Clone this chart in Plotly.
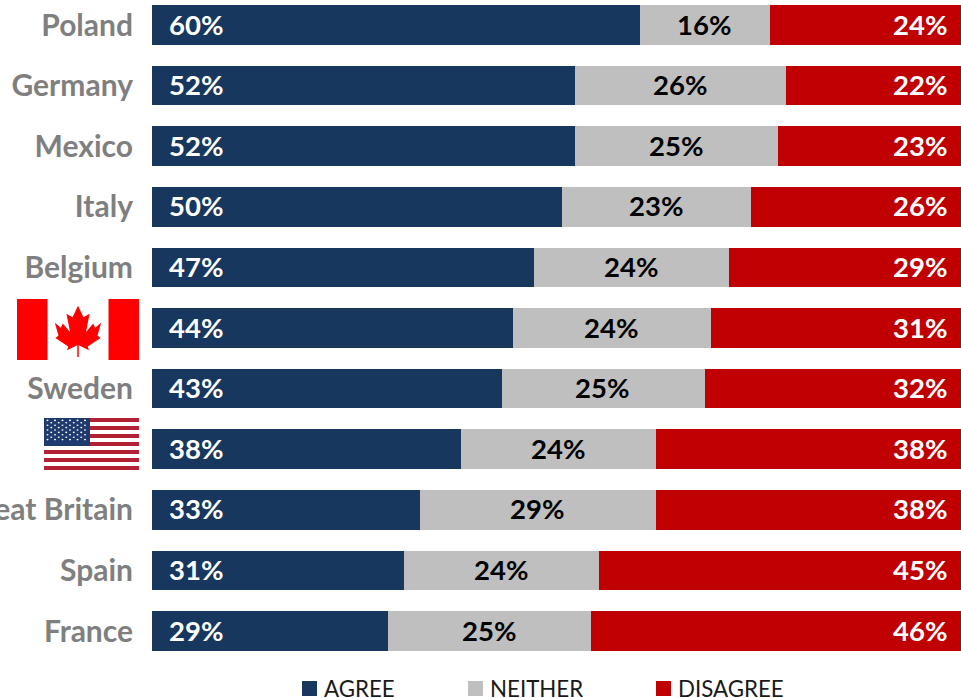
import base64
import plotly.graph_objects as go

# Survey results, share of respondents per country
countries = ["Poland", "Germany", "Mexico", "Italy", "Belgium", "Canada",
             "Sweden", "United States", "Great Britain", "Spain", "France"]
tick_labels = ["Poland", "Germany", "Mexico", "Italy", "Belgium", "",
               "Sweden", "", "Great Britain", "Spain", "France"]
agree = [60, 52, 52, 50.4, 47, 44.4, 43, 38, 33, 31, 29]
neither = [16, 26, 25, 23.3, 24, 24.3, 25, 24, 29, 24, 25]
disagree = [24, 22, 23, 26.3, 29, 31.3, 32, 38, 38, 45, 46]

NAVY, GREY, RED = "#17375E", "#BFBFBF", "#C00000"
FONT = "Lato"
W, H = 961, 698
LEFT, BOTTOM = 152, 38
PLOT_W, PLOT_H = W - LEFT, H - BOTTOM


def px_x(px):
    return (px - LEFT) / PLOT_W


def px_y(px):
    return 1 - px / PLOT_H


def data_uri(svg):
    return "data:image/svg+xml;base64," + base64.b64encode(svg.encode()).decode()


def canada_flag():
    # Right half of the maple leaf as (offset from centre, y); mirrored for the left half
    half = [(0, 11), (9, 30), (19, 24), (13, 54), (25, 40), (28, 47), (38, 39),
            (32, 60), (37, 64), (16, 78), (18, 84), (1.2, 76), (1.2, 95)]
    right = [f"{100 + dx} {y}" for dx, y in half]
    left = [f"{100 - dx} {y}" for dx, y in reversed(half[1:])]
    leaf = "M" + " L".join(right + left) + " Z"
    return data_uri(
        '<svg xmlns="http://www.w3.org/2000/svg" width="200" height="100" viewBox="0 0 200 100">'
        '<rect width="200" height="100" fill="#FF0000"/>'
        '<rect x="50" width="100" height="100" fill="#FFFFFF"/>'
        f'<path d="{leaf}" fill="#FF0000"/></svg>'
    )


def usa_flag():
    stripes = "".join(
        f'<rect y="{i * 10}" width="190" height="10" fill="{"#B22234" if i % 2 == 0 else "#FFFFFF"}"/>'
        for i in range(13)
    )
    stars = ""
    for row in range(9):
        for col in range(6 if row % 2 == 0 else 5):
            cx = 7 + col * 15 + (0 if row % 2 == 0 else 7.5)
            cy = 6 + row * 6
            stars += f'<circle cx="{cx}" cy="{cy}" r="2" fill="#FFFFFF"/>'
    return data_uri(
        '<svg xmlns="http://www.w3.org/2000/svg" width="190" height="130" viewBox="0 0 190 130">'
        f'{stripes}<rect width="92" height="70" fill="#1F3A6E"/>{stars}</svg>'
    )


fig = go.Figure()
for name, values, colour in [("AGREE", agree, NAVY), ("NEITHER", neither, GREY),
                             ("DISAGREE", disagree, RED)]:
    fig.add_bar(y=countries, x=values, name=name, orientation="h",
                marker=dict(color=colour, line_width=0), showlegend=False)

annotations = []


def label(x, y, value, anchor, colour):
    annotations.append(dict(
        x=x, y=y, xref="x", yref="y", text=f"{round(value)}%", showarrow=False,
        xanchor=anchor, yanchor="middle", yshift=1,
        font=dict(family=FONT, size=27.5, color=colour, weight="bold"),
    ))


for c, a, n, d in zip(countries, agree, neither, disagree):
    label(1.85, c, a, "left", "#FFFFFF")
    label(a + n / 2 - 0.1, c, n, "center", "#000000")
    label(98.0, c, d, "right", "#FFFFFF")

# Hand-placed legend row beneath the bars
shapes = []
for name, colour, x0 in [("AGREE", NAVY, 302), ("NEITHER", GREY, 468), ("DISAGREE", RED, 656)]:
    shapes.append(dict(type="rect", xref="paper", yref="paper",
                       x0=px_x(x0), x1=px_x(x0 + 15), y0=px_y(696), y1=px_y(681),
                       fillcolor=colour, line_width=0))
    annotations.append(dict(
        x=px_x(x0 + 19.5), y=px_y(688), xref="paper", yref="paper", text=name,
        showarrow=False, xanchor="left", yanchor="middle", height=18,
        font=dict(family=FONT, size=22.3, color="#1A1A1A"),
    ))

images = [
    dict(source=canada_flag(), xref="paper", yref="paper", x=px_x(17), y=px_y(299),
         sizex=122 / PLOT_W, sizey=61 / PLOT_H, sizing="stretch",
         xanchor="left", yanchor="top", layer="above"),
    dict(source=usa_flag(), xref="paper", yref="paper", x=px_x(44), y=px_y(418),
         sizex=95 / PLOT_W, sizey=52 / PLOT_H, sizing="stretch",
         xanchor="left", yanchor="top", layer="above"),
]

fig.update_layout(
    barmode="stack",
    bargap=0.345,
    width=W,
    height=H,
    margin=dict(l=LEFT, r=0, t=0, b=BOTTOM, pad=0),
    paper_bgcolor="#FFFFFF",
    plot_bgcolor="#FFFFFF",
    annotations=annotations,
    shapes=shapes,
    images=images,
    xaxis=dict(range=[0, 99.5], visible=False, fixedrange=True, automargin=False),
    yaxis=dict(
        range=[10.478, -0.4125],
        automargin=False,
        tickmode="array",
        tickvals=countries,
        ticktext=tick_labels,
        ticks="",
        showline=False,
        showgrid=False,
        ticklabelstandoff=18,
        tickfont=dict(family=FONT, size=30, color="#7F7F7F", weight="bold"),
        fixedrange=True,
    ),
)

fig.write_html("out.html", config=dict(displayModeBar=False))
